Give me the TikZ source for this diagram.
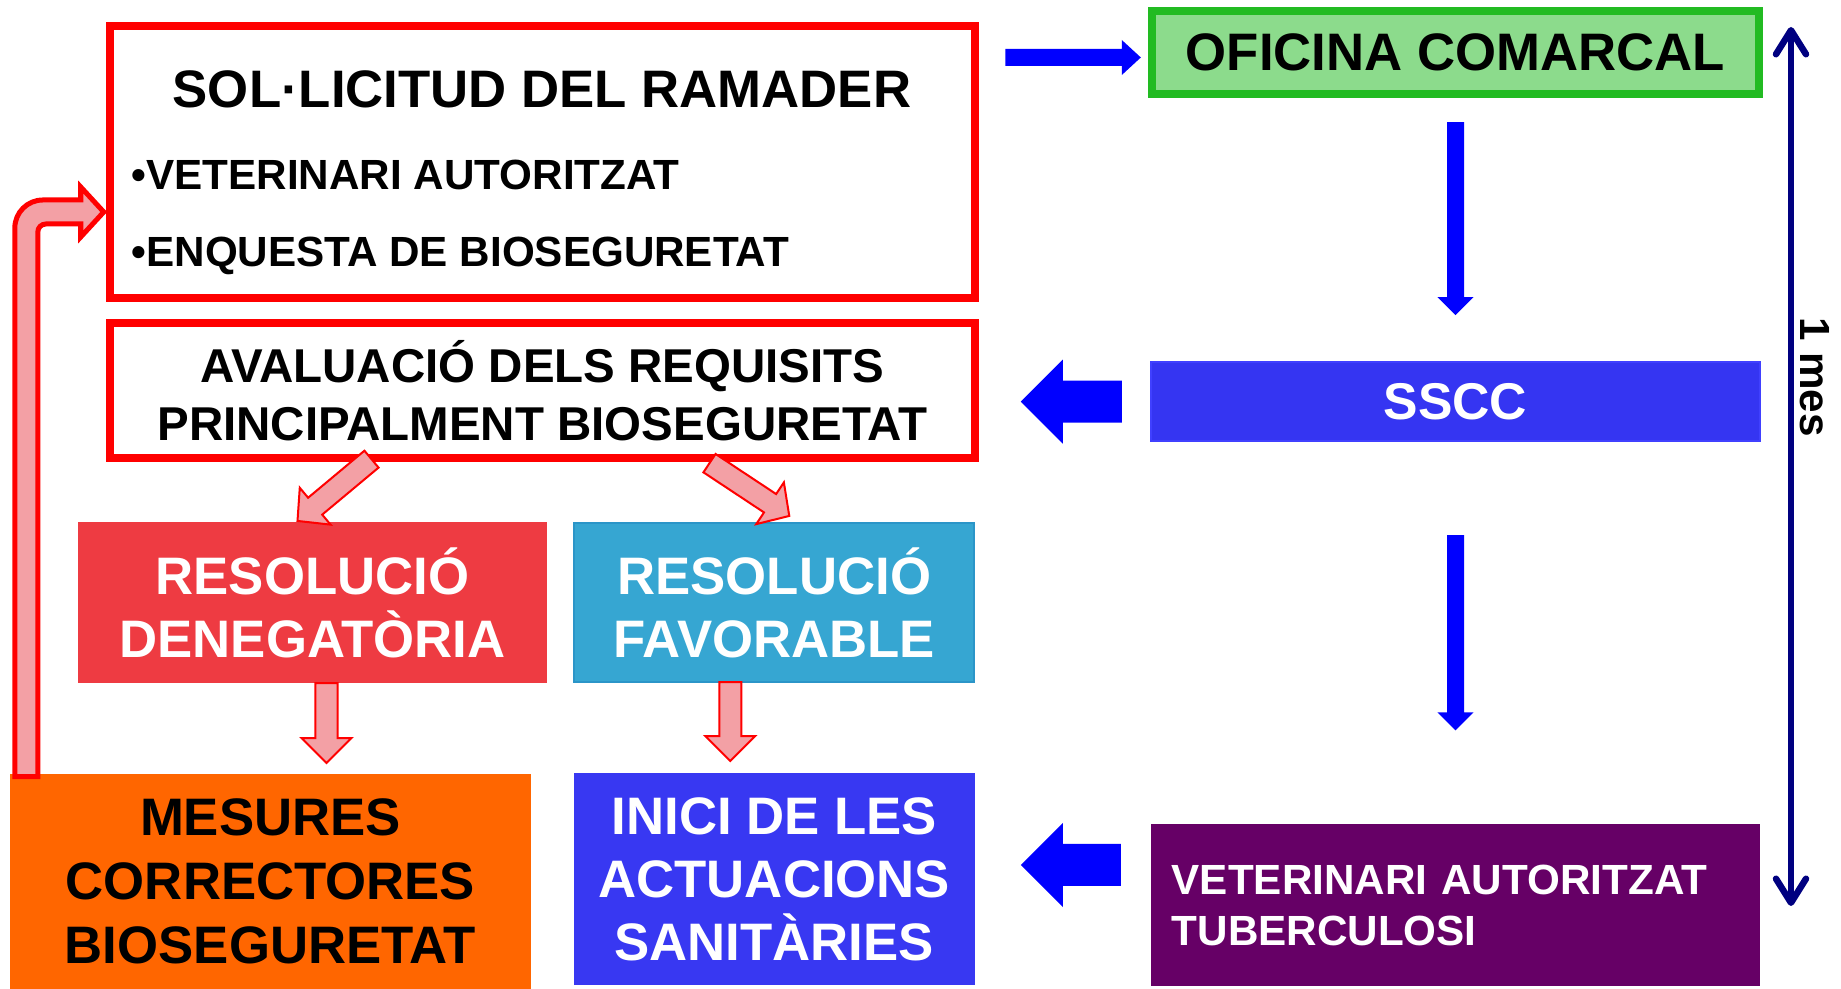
\documentclass[tikz,border=0pt]{standalone}
\usepackage{fontspec}
\setmainfont{Liberation Sans}
\usetikzlibrary{positioning, calc, arrows.meta}

\definecolor{ramred}{HTML}{FF0000}
\definecolor{ofigreen}{HTML}{8CDB8C}
\definecolor{ofiborder}{HTML}{22BB22}
\definecolor{ssccblue}{HTML}{3535F2}
\definecolor{denred}{HTML}{EE3B42}
\definecolor{favblue}{HTML}{36A6D2}
\definecolor{favborder}{HTML}{2B95C8}
\definecolor{mesorange}{HTML}{FF6600}
\definecolor{inciblue}{HTML}{3838F2}
\definecolor{vetpurple}{HTML}{660066}
\definecolor{arrowblue}{HTML}{0000FF}
\definecolor{mesnavy}{HTML}{000080}
\definecolor{hatchpink}{HTML}{F3A0A5}

\begin{document}
\begin{tikzpicture}[x=0.01cm, y=-0.01cm,
	box/.style={rectangle, inner sep=0pt, outer sep=0pt, align=center},
	redframe/.style={box, draw=ramred, line width=0.08cm, fill=white, outer sep=0.04cm},
	bigtext/.style={font=\fontsize{15}{17.9}\selectfont\bfseries},
	midtext/.style={font=\fontsize{13.5}{16.5}\selectfont\bfseries},
	smalltext/.style={font=\fontsize{12}{14.5}\selectfont\bfseries},
	blockarrow/.style n args={3}{to path={
		($(\tikztostart)!#1!90:(\tikztotarget)$)
		-- ($($(\tikztotarget)!#3!(\tikztostart)$)!#1!90:(\tikztotarget)$)
		-- ($($(\tikztotarget)!#3!(\tikztostart)$)!#2!90:(\tikztotarget)$)
		-- (\tikztotarget)
		-- ($($(\tikztotarget)!#3!(\tikztostart)$)!#2!-90:(\tikztotarget)$)
		-- ($($(\tikztotarget)!#3!(\tikztostart)$)!#1!-90:(\tikztotarget)$)
		-- ($(\tikztostart)!#1!-90:(\tikztotarget)$)
		-- cycle}},
	bluearrow/.style={fill=arrowblue},
	hatcharrow/.style={draw=ramred, fill=hatchpink, line width=0.02cm},
]
	\fill[white] (0,0) rectangle (1841,989);
	\useasboundingbox (0,0) rectangle (1841,989);

	% Left column
	\node [redframe, minimum width=8.65cm, minimum height=2.72cm] (sol) at (542.5,162) {};
	\node [bigtext] (soltitle) at (542,89) {SOL·LICITUD DEL RAMADER};
	\node [smalltext, anchor=base west, inner sep=0pt] (solvet) at (131,190) {•VETERINARI AUTORITZAT};
	\node [smalltext, anchor=base west, inner sep=0pt] (solenq) at (131,267) {•ENQUESTA DE BIOSEGURETAT};
	\node [redframe, midtext, below=0.17cm of sol, minimum width=8.64cm, minimum height=1.35cm] (aval) {AVALUACIÓ DELS REQUISITS\\PRINCIPALMENT BIOSEGURETAT};

	\node [box, bigtext, fill=denred, text=white, minimum width=4.69cm, minimum height=1.61cm] (deneg) at (312.5,602.5) {RESOLUCIÓ\\DENEGATÒRIA};
	\node [box, bigtext, fill=favblue, draw=favborder, line width=0.02cm, text=white, right=0.27cm of deneg, minimum width=4.0cm, minimum height=1.59cm] (favor) {RESOLUCIÓ\\FAVORABLE};
	\node [box, font=\fontsize{15}{17.9}\selectfont\bfseries, fill=inciblue, text=white, below=0.91cm of favor, minimum width=4.01cm, minimum height=2.12cm] (inici) {INICI DE LES\\ACTUACIONS\\SANITÀRIES};
	\node [box, font=\fontsize{15}{18.2}\selectfont\bfseries, fill=mesorange, left=0.43cm of inici, minimum width=5.2cm, minimum height=2.15cm, yshift=-0.02cm] (mesures) {MESURES\\CORRECTORES\\BIOSEGURETAT};

	% Right column
	\node [box, bigtext, fill=ofigreen, draw=ofiborder, line width=0.08cm, minimum width=6.07cm, minimum height=0.83cm] (oficina) at (1455.5,52.5) {OFICINA COMARCAL};
	\node [box, font=\fontsize{14.7}{17}\selectfont\bfseries, fill=ssccblue, draw=blue!75, line width=0.02cm, text=white, below=2.68cm of oficina, minimum width=6.09cm, minimum height=0.79cm] (sscc) {SSCC};
	\node [box, smalltext, fill=vetpurple, text=white, below=3.83cm of sscc, minimum width=6.09cm, minimum height=1.61cm, text width=5.67cm, align=left] (vet) {VETERINARI AUTORITZAT\\TUBERCULOSI};

	% Blue arrows
	\coordinate (ofiarrS) at ($(sol.east |- oficina.west)+(26,5)$);
	\coordinate (ofiarrE) at ($(oficina.west)+(-11,5)$);
	\coordinate (downAS) at ($(oficina.south)+(0,28)$);
	\coordinate (downAE) at ($(sscc.north)+(0,-47)$);
	\coordinate (downBS) at ($(sscc.south)+(0,94)$);
	\coordinate (downBE) at ($(vet.north)+(0,-94)$);
	\coordinate (ssccarrS) at ($(sscc.west)+(-29,0)$);
	\coordinate (ssccarrE) at ($(aval.east |- sscc.west)+(42,0)$);
	\coordinate (vetarrS) at ($(vet.west)+(-30,-40)$);
	\coordinate (vetarrE) at ($(inici.east |- vetarrS)+(46,0)$);

	\fill[bluearrow] (ofiarrS) to[blockarrow={0.085cm}{0.175cm}{0.19cm}] (ofiarrE);
	\fill[bluearrow] (downAS) to[blockarrow={0.085cm}{0.18cm}{0.18cm}] (downAE);
	\fill[bluearrow] (downBS) to[blockarrow={0.085cm}{0.18cm}{0.18cm}] (downBE);
	\fill[bluearrow] (ssccarrS) to[blockarrow={0.21cm}{0.42cm}{0.42cm}] (ssccarrE);
	\fill[bluearrow] (vetarrS) to[blockarrow={0.21cm}{0.42cm}{0.42cm}] (vetarrE);

	% Red hatched arrows
	\coordinate (denarrS) at ($(aval.south)+(-171,-3)$);
	\coordinate (denarrE) at ($(deneg.north)+(-15,-1)$);
	\coordinate (favarrS) at ($(aval.south)+(167,1)$);
	\coordinate (favarrE) at ($(favor.north)+(15,-7)$);
	\coordinate (mesarrS) at ($(deneg.south)+(14,0)$);
	\coordinate (mesarrE) at ($(deneg.south)+(14,80)$);
	\coordinate (iniarrS) at ($(favor.south)+(-44,0)$);
	\coordinate (iniarrE) at ($(favor.south)+(-44,79)$);

	\filldraw[hatcharrow] (denarrS) to[blockarrow={0.11cm}{0.24cm}{0.23cm}] (denarrE);
	\filldraw[hatcharrow] (favarrS) to[blockarrow={0.11cm}{0.25cm}{0.23cm}] (favarrE);
	\filldraw[hatcharrow] (mesarrS) to[blockarrow={0.11cm}{0.25cm}{0.25cm}] (mesarrE);
	\filldraw[hatcharrow] (iniarrS) to[blockarrow={0.11cm}{0.25cm}{0.25cm}] (iniarrE);

	% Return arrow
	\coordinate (retbot) at ($(mesures.north west)+(4.5,3)$);
	\coordinate (rettip) at ($(sol.west)+(-2,50)$);
	\filldraw[hatcharrow, line width=0.05cm] (retbot) [rounded corners=0.28cm]
		-- ($(retbot |- rettip)+(0,-12)$) [sharp corners]
		-- ($(rettip)+(-23,-12)$) -- ($(rettip)+(-23,-25)$) -- (rettip)
		-- ($(rettip)+(-23,25)$) -- ($(rettip)+(-23,12)$) [rounded corners=0.08cm]
		-- ($(retbot |- rettip)+(23,12)$) [sharp corners]
		-- ($(retbot)+(23,0)$) -- cycle;

	% 1 mes
	\coordinate (mestop) at (1791,27);
	\coordinate (mesbot) at (1791,906);
	\draw[mesnavy, line width=0.065cm, {Straight Barb[round, length=0.24cm, width=0.3cm]}-{Straight Barb[round, length=0.24cm, width=0.3cm]}] (mestop) -- (mesbot);
	\node [font=\fontsize{12}{14}\selectfont\bfseries, rotate=-90, inner sep=0pt] (mestext) at (1815,377) {1 mes};
\end{tikzpicture}
\end{document}
